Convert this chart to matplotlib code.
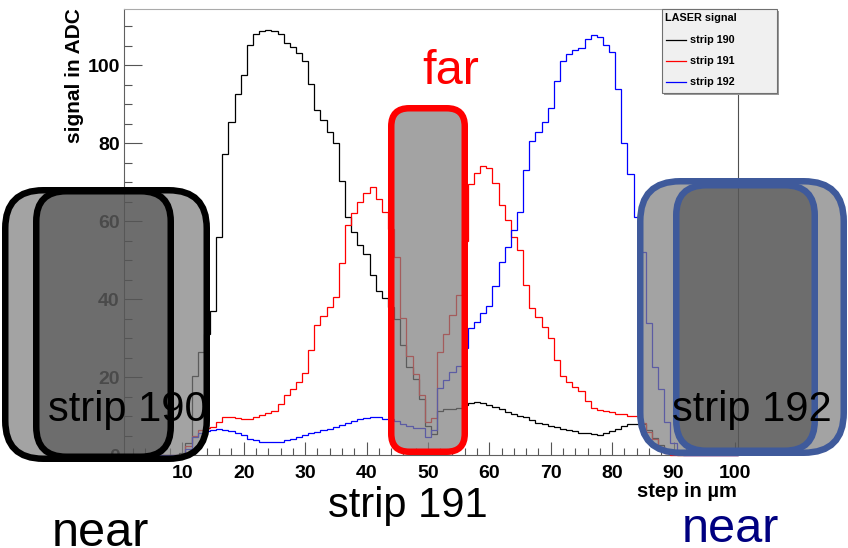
import numpy as np
import matplotlib
matplotlib.use("Agg")
import matplotlib.pyplot as plt
from matplotlib.patches import FancyBboxPatch, Rectangle
from matplotlib.lines import Line2D
from matplotlib.transforms import IdentityTransform
from matplotlib.ticker import MultipleLocator
from matplotlib.colors import to_rgba

plt.rcParams['font.family'] = ['Liberation Sans', 'DejaVu Sans']

# ---------------- data ----------------
bin_centers = list(range(1, 101))   # step in um, 1-um bins
strip190 = [0, 0, 0, 0, 0, 0, 0, 0, 0, 0.5,
            3.1, 20.3, 26.5, 31.0, 37.0, 56.1, 77.2, 85.5, 92.6, 97.6,
            105.2, 108.0, 108.8, 109.0, 108.9, 108.0, 105.8, 104.8, 103.1, 101.1,
            95.1, 88.5, 86.0, 83.0, 80.2, 70.3, 61.0, 57.2, 53.9, 51.5,
            46.2, 42.2, 40.4, 38.0, 34.9, 28.3, 22.6, 19.5, 14.5, 7.5,
            5.5, 11.4, 11.8, 12.0, 12.2, 12.8, 13.3, 13.6, 13.3, 12.9,
            12.5, 11.8, 11.2, 10.6, 10.1, 9.7, 9.1, 8.4, 8.0, 7.6,
            7.2, 6.8, 6.5, 6.2, 5.8, 5.6, 5.4, 5.2, 5.6, 6.2,
            6.8, 7.5, 7.9, 8.1, 8.0, 6.5, 4.4, 2.6, 1.4, 0.3,
            0, 0, 0, 0, 0, 0, 0, 0, 0, 0]
strip191 = [0, 0, 0, 0, 0, 0, 0, 0, 0, 0,
            2.5, 5.0, 6.5, 7.0, 7.3, 8.5, 9.8, 9.7, 9.5, 9.3,
            9.4, 9.8, 10.3, 10.8, 11.4, 13.2, 15.5, 17.0, 18.7, 21.1,
            27.0, 33.4, 35.6, 38.1, 40.7, 49.2, 59.0, 62.1, 65.0, 67.2,
            68.7, 65.6, 62.4, 58.0, 50.8, 35.1, 25.5, 20.8, 15.5, 8.6,
            9.5, 26.4, 31.2, 36.0, 41.0, 55.0, 69.7, 72.3, 74.2, 73.6,
            69.9, 64.2, 60.3, 56.1, 52.6, 43.7, 37.7, 35.5, 33.0, 30.0,
            24.5, 20.3, 18.7, 17.5, 16.4, 13.9, 12.1, 11.5, 11.3, 11.1,
            10.7, 10.5, 10.2, 10.0, 8.2, 6.1, 4.1, 2.2, 0.5, 0,
            0, 0, 0, 0, 0, 0, 0, 0, 0, 0]
strip192 = [0, 0, 0, 0, 0, 0, 0, 0, 0, 0,
            1.5, 4.8, 5.6, 6.3, 6.5, 6.7, 6.6, 6.2, 5.8, 5.2,
            4.2, 3.8, 3.4, 3.3, 3.3, 3.5, 3.9, 4.3, 4.8, 5.2,
            5.7, 6.1, 6.5, 6.8, 7.2, 7.7, 8.3, 8.8, 9.2, 9.5,
            9.7, 9.7, 9.4, 9.2, 8.7, 8.0, 7.5, 6.9, 7.0, 4.8,
            6.5, 17.3, 19.4, 21.3, 22.9, 27.5, 32.6, 34.3, 36.6, 38.4,
            43.5, 49.6, 53.3, 57.9, 62.5, 73.2, 80.7, 82.8, 85.5, 89.0,
            96.1, 101.1, 102.9, 103.9, 104.4, 106.7, 107.9, 107.3, 105.2, 103.3,
            93.9, 80.2, 72.1, 61.0, 52.2, 34.0, 22.6, 16.9, 8.6, 3.1,
            0.5, 0, 0, 0, 0, 0, 0, 0, 0, 0]
series_labels = ['strip 190', 'strip 191', 'strip 192']
series_colors = ['#000000', '#ff0000', '#0000ff']
legend_title = 'LASER signal'
x_label = 'step in \u00b5m'
y_label = 'signal in ADC'
x_ticks = [10, 20, 30, 40, 50, 60, 70, 80, 90, 100]
y_ticks = [0, 20, 40, 60, 80, 100]

# ---------------- figure ----------------
W, H = 848, 548
fig = plt.figure(figsize=(W / 100, H / 100), dpi=100)
fig.patch.set_facecolor('white')

ax_l, ax_r, ax_t, ax_b = 124, 738, 9, 455.3
ax = fig.add_axes([ax_l / W, (H - ax_b) / H, (ax_r - ax_l) / W, (ax_b - ax_t) / H])

centers = np.array(bin_centers, dtype=float)
edges = np.concatenate([centers - 0.5, [centers[-1] + 0.5]])
all_series = [strip190, strip191, strip192]
for vals, col in zip(all_series, series_colors):
    ax.stairs(vals, edges, color=col, linewidth=0.9, zorder=3, clip_on=False)

ymax = 1.05 * max(max(s) for s in all_series)
ax.set_xlim(edges[0], edges[-1])
ax.set_ylim(0, ymax)

ax.set_xticks(x_ticks)
ax.set_yticks(y_ticks)
ax.xaxis.set_minor_locator(MultipleLocator(2))
ax.yaxis.set_minor_locator(MultipleLocator(5))
ax.tick_params(axis='x', which='major', direction='in', length=9.5, width=0.8,
               color='#555555', pad=7, labelsize=14)
ax.tick_params(axis='x', which='minor', direction='in', length=4.7, width=0.8,
               color='#555555')
ax.tick_params(axis='y', which='major', direction='in', length=13, width=0.8,
               color='#555555', pad=3, labelsize=14)
ax.tick_params(axis='y', which='minor', direction='in', length=6, width=0.8,
               color='#555555')
for lab in ax.get_xticklabels() + ax.get_yticklabels():
    lab.set_fontweight('bold')

for side, c in [('left', '#606060'), ('bottom', '#606060'),
                ('top', '#aaaaaa'), ('right', '#505050')]:
    ax.spines[side].set_color(c)
    ax.spines[side].set_linewidth(0.8)

# axis titles (ROOT style: at the ends of the axes)
fig.text(75 / W, 1 - 8 / H, y_label, rotation=90, ha='center', va='top',
         fontsize=15, fontweight='bold')
fig.text(737 / W, 1 - 497 / H, x_label, ha='right', va='baseline',
         fontsize=14.5, fontweight='bold')

# ---------------- legend (ROOT TLegend look) ----------------
ID = IdentityTransform()
def px(x, y):
    return x, H - y

lx0, ly0, lx1, ly1 = 662, 9, 777, 93
fig.add_artist(Rectangle(px(lx0 + 2, ly1 + 2), lx1 - lx0, ly1 - ly0, transform=ID,
                         facecolor='#9a9a9a', edgecolor='none', zorder=5))
fig.add_artist(Rectangle(px(lx0, ly1), lx1 - lx0, ly1 - ly0, transform=ID,
                         facecolor='#f0f0f0', edgecolor='#707070', linewidth=0.8, zorder=5.1))
fig.text(665 / W, 1 - 18 / H, legend_title, ha='left', va='center',
         fontsize=7.8, fontweight='bold', zorder=5.2)
for i, (lab, col) in enumerate(zip(series_labels, series_colors)):
    yy = 40 + i * 21
    fig.add_artist(Line2D([666, 686], [H - yy, H - yy], transform=ID, color=col,
                          linewidth=0.9, zorder=5.2))
    fig.text(690 / W, 1 - yy / H, lab, ha='left', va='center',
             fontsize=7.8, fontweight='bold', zorder=5.2)

# ---------------- slide overlays ----------------
def rbox(x0, y0, x1, y1, r, fc, ec, lw_px, z):
    ins = lw_px / 2.0
    p = FancyBboxPatch((x0 + ins, H - y1 + ins), (x1 - x0 - 2 * ins), (y1 - y0 - 2 * ins),
                       boxstyle=f"round,pad=0,rounding_size={r}", transform=ID,
                       facecolor=fc, edgecolor=ec, linewidth=lw_px * 0.72, zorder=z)
    fig.add_artist(p)

light = to_rgba('#808080', 0.72)
dark = to_rgba('#3a3a3a', 0.51)
blue_edge = '#3f5a9b'

# strip 190 (black, near)
rbox(2, 187, 210, 462, 38, light, 'black', 6.5, 10)
rbox(33, 188, 174, 460, 30, dark, 'black', 6.5, 10.1)
# strip 191 (red, far)
rbox(388, 105, 468, 455, 18, light, '#ff0000', 6.5, 10)
# strip 192 (blue, near)
rbox(637, 178, 847, 456, 40, light, blue_edge, 6.5, 10)
rbox(673, 182, 818, 454, 30, dark, blue_edge, 6.5, 10.1)

def ptext(x, y, s, size, color='black', ha='center'):
    fig.text(x / W, 1 - y / H, s, ha=ha, va='baseline', fontsize=size,
             color=color, zorder=12)

ptext(128, 421, 'strip 190', 30)
ptext(752, 421, 'strip 192', 30)
ptext(408, 517, 'strip 191', 30)
ptext(451, 84, 'far', 35, color='#ff0000')
ptext(52, 546, 'near', 35, ha='left')
ptext(682, 542, 'near', 35, color='#000080', ha='left')

fig.savefig('out.png', dpi=100)
